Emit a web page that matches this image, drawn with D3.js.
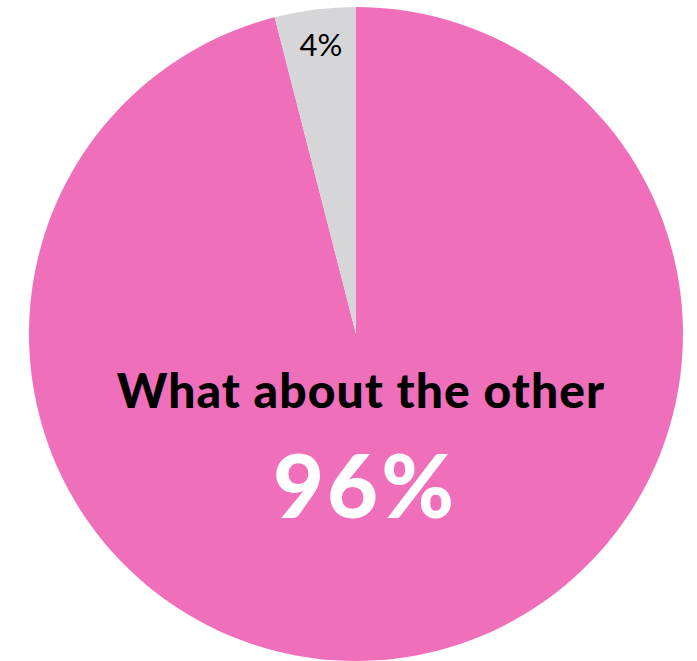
<!DOCTYPE html>
<html>
<head>
<meta charset="utf-8">
<script src="https://cdn.jsdelivr.net/npm/d3@7"></script>
<style>
  body { margin: 0; background: #fff; }
  svg { display: block; }
</style>
</head>
<body>
<div id="chart"></div>
<script>
// data
var labels = ["What about the other", "Known"];
var values = [96, 4];
var colors = ["#EF6FBA", "#D6D6D9"];

var width = 697, height = 661;
var cx = 356, cy = 334, radius = 327;

var svg = d3.select("#chart").append("svg")
    .attr("width", width)
    .attr("height", height);

var g = svg.append("g").attr("transform", "translate(" + cx + "," + cy + ")");

var pie = d3.pie().sort(null).value(function(d) { return d; });
var arc = d3.arc().innerRadius(0).outerRadius(radius);
var arcs = pie(values);

g.selectAll("path.slice")
    .data(arcs)
    .enter().append("path")
    .attr("class", "slice")
    .attr("d", arc)
    .attr("fill", function(d, i) { return colors[i]; });

// small slice label near the rim
var small = arcs[1];
var mid = (small.startAngle + small.endAngle) / 2;
var r4 = 280;
g.append("text")
    .attr("x", Math.sin(mid) * r4)
    .attr("y", -Math.cos(mid) * r4)
    .attr("text-anchor", "middle")
    .style("font-family", "Lato, sans-serif")
    .style("font-weight", 400)
    .style("font-size", "31px")
    .attr("fill", "#000")
    .text(values[1] + "%");

// big slice title + value
svg.append("text")
    .attr("x", 361)
    .attr("y", 408)
    .attr("text-anchor", "middle")
    .style("font-family", "Lato, sans-serif")
    .style("font-weight", 900)
    .style("font-size", "48px")
    .style("letter-spacing", "1.1px")
    .attr("fill", "#000")
    .text(labels[0]);

svg.append("text")
    .attr("x", 365)
    .attr("y", 518)
    .attr("text-anchor", "middle")
    .style("font-family", "Lato, sans-serif")
    .style("font-weight", 900)
    .style("font-size", "88px")
    .style("letter-spacing", "3px")
    .attr("fill", "#fff")
    .text(values[0] + "%");
</script>
</body>
</html>
